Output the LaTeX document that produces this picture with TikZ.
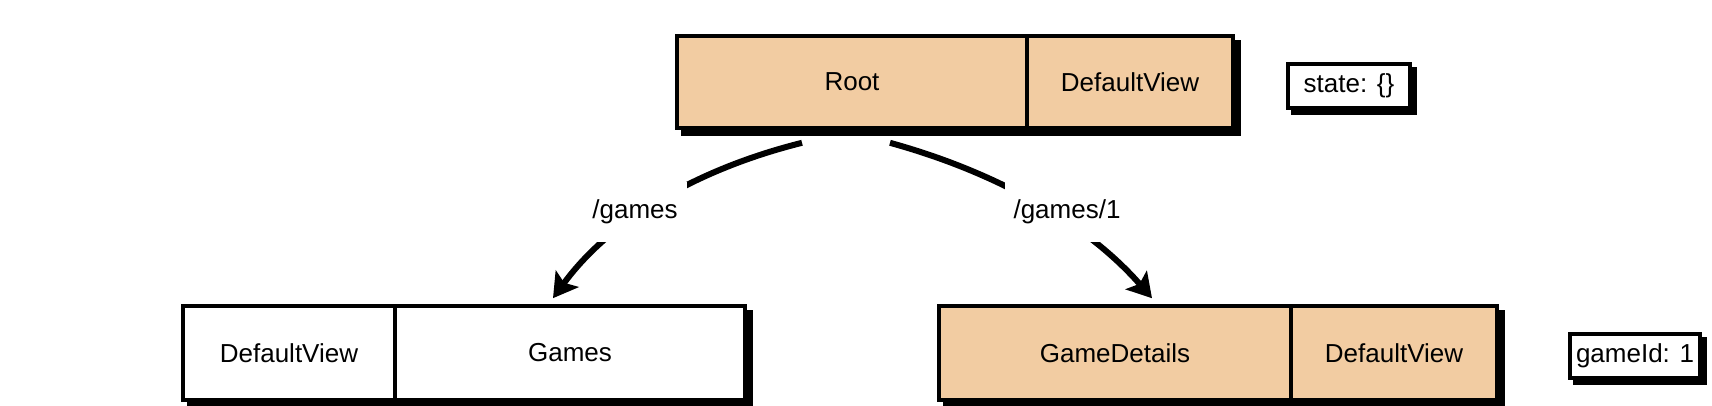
\documentclass[tikz,border=0pt]{standalone}
\usepackage{fontspec}
\setmainfont{Liberation Sans}
\usetikzlibrary{arrows.meta,backgrounds,calc}
\definecolor{peach}{RGB}{242,204,162}
\begin{document}
\begin{tikzpicture}[x=1pt,y=-1pt,
  txt/.style={font=\fontsize{26}{30}\selectfont},
  part/.style={draw, line width=3.6pt, minimum height=92pt, inner sep=0pt, txt},
  tag/.style={draw, line width=3.6pt, fill=white, minimum height=44pt, inner sep=0pt, txt},
  link/.style={line width=6pt, -{Stealth[length=24pt,width=28pt,inset=5pt]}},
  lbl/.style={fill=white, txt, minimum width=104pt, minimum height=60pt, inner sep=0pt}]
\useasboundingbox (0,0) rectangle (1712,405);
% top row
\node[part, fill=peach, minimum width=350pt] (root) at (852,82) {Root};
\node[part, fill=peach, minimum width=206pt] (rootdv) at (1130,82) {DefaultView};
\node[tag, minimum width=122pt] (state) at (1349,86) {state: \{\}};
% bottom left
\node[part, fill=white, minimum width=212pt, minimum height=94pt] (ldv) at (289,353) {DefaultView};
\node[part, fill=white, minimum width=350pt, minimum height=94pt] (games) at (570,353) {Games};
% bottom right
\node[part, fill=peach, minimum width=352pt, minimum height=94pt] (gd) at (1115,353) {GameDetails};
\node[part, fill=peach, minimum width=206pt, minimum height=94pt] (rdv) at (1394,353) {DefaultView};
\node[tag, minimum width=130pt] (gid) at (1635,356) {gameId: 1};
% shadows
\begin{scope}[on background layer]
  \fill ($(root.north west)+(6,6)$) rectangle ($(rootdv.south east)+(6,6)$);
  \fill ($(state.north west)+(5,5)$) rectangle ($(state.south east)+(5,5)$);
  \fill ($(ldv.north west)+(6,6)$) rectangle ($(games.south east)+(6,6)$);
  \fill ($(gd.north west)+(6,6)$) rectangle ($(rdv.south east)+(6,6)$);
  \fill ($(gid.north west)+(5,5)$) rectangle ($(gid.south east)+(5,5)$);
\end{scope}
% connectors
\coordinate (s1) at ($(root.south)+(-50,13)$);
\coordinate (e1) at ($(games.north)+(-17,-6)$);
\coordinate (s2) at ($(root.south)+(38,13)$);
\coordinate (e2) at ($(gd.north)+(37,-6)$);
\draw[link] (s1) .. controls (697,169) and (610,220) .. (e1);
\draw[link] (s2) .. controls (1003,174) and (1090,227) .. (e2);
\node[lbl] (l1) at (635,212) {/games};
\node[lbl, minimum width=124pt] (l2) at (1067,212) {/games/1};
\end{tikzpicture}
\end{document}
